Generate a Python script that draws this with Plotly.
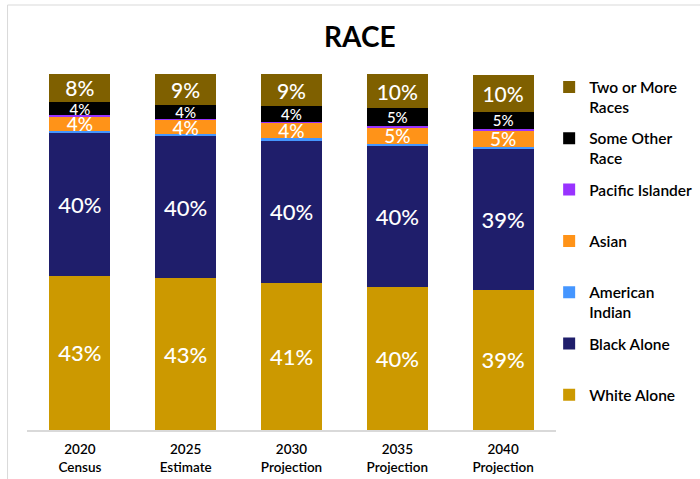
import plotly.graph_objects as go

categories = ["2020<br>Census", "2025<br>Estimate", "2030<br>Projection", "2035<br>Projection", "2040<br>Projection"]

white_alone = [43.4, 42.6, 41.3, 40.2, 39.4]
black_alone = [40.1, 39.9, 40.0, 39.6, 39.4]
american_indian = [0.5, 0.6, 0.6, 0.6, 0.6]
asian = [4.2, 4.0, 4.4, 4.6, 4.8]
pacific_islander = [0.2, 0.3, 0.3, 0.3, 0.3]
some_other = [3.8, 4.0, 4.4, 5.1, 4.9]
two_or_more = [7.8, 8.6, 9.0, 9.6, 10.4]

series = [
    ("White Alone<br> ", white_alone, "#CC9900", 22, True),
    ("Black Alone<br> ", black_alone, "#1F1E6B", 22, True),
    ("American<br>Indian", american_indian, "#4596FF", 12, False),
    ("Asian<br> ", asian, "#FF9318", 19, True),
    ("Pacific Islander<br> ", pacific_islander, "#9933FF", 12, False),
    ("Some Other<br>Race", some_other, "#000000", 15, True),
    ("Two or More<br>Races", two_or_more, "#7F6000", 21, True),
]

FONT = "Lato"

fig = go.Figure()
for i, (name, vals, color, fsize, show) in enumerate(series):
    fig.add_trace(go.Bar(
        x=categories, y=vals, name=name,
        marker=dict(color=color, line=dict(width=0)),
        texttemplate="%{y:.0f}%" if show else "",
        textposition="inside" if show else "none",
        insidetextanchor="middle",
        constraintext="none",
        textangle=0,
        insidetextfont=dict(family=FONT, size=fsize, weight=500, color="white"),
        legendgroup=str(i),
        legendrank=100 - i,
        hoverinfo="skip",
    ))

fig.update_layout(
    barmode="stack",
    bargap=0.425,
    width=700, height=479,
    margin=dict(l=26.5, r=143.5, t=74, b=49, autoexpand=False),
    paper_bgcolor="white",
    plot_bgcolor="white",
    font=dict(family=FONT, color="#000000"),
    title=dict(text="RACE", x=0.514, xanchor="center", y=0.923, yanchor="middle",
               font=dict(family=FONT, size=28, weight="bold", color="#000000")),
    showlegend=True,
    legend=dict(
        xref="container", yref="container",
        x=0.7845, xanchor="left", y=0.853, yanchor="top",
        traceorder="grouped", tracegroupgap=8,
        valign="top", maxheight=470,
        font=dict(family=FONT, size=15.5, weight=600, color="#000000"),
        bgcolor="rgba(0,0,0,0)",
    ),
    xaxis=dict(
        showline=True, linecolor="#D9D9D9", linewidth=1.5,
        ticks="", showgrid=False, zeroline=False, automargin=False,
        ticklabelstandoff=6,
        tickfont=dict(family=FONT, size=13.5, weight=600, color="#000000"),
    ),
    yaxis=dict(range=[0, 100], visible=False, showgrid=False, zeroline=False, automargin=False),
    shapes=[dict(
        type="rect", xref="paper", yref="paper",
        x0=(7 - 26.5) / 530, x1=1.5, y0=-0.5, y1=(430 - 5) / 356,
        line=dict(color="#D9D9D9", width=1), fillcolor="rgba(0,0,0,0)", layer="below",
    )],
)

fig.write_html("out.html")
